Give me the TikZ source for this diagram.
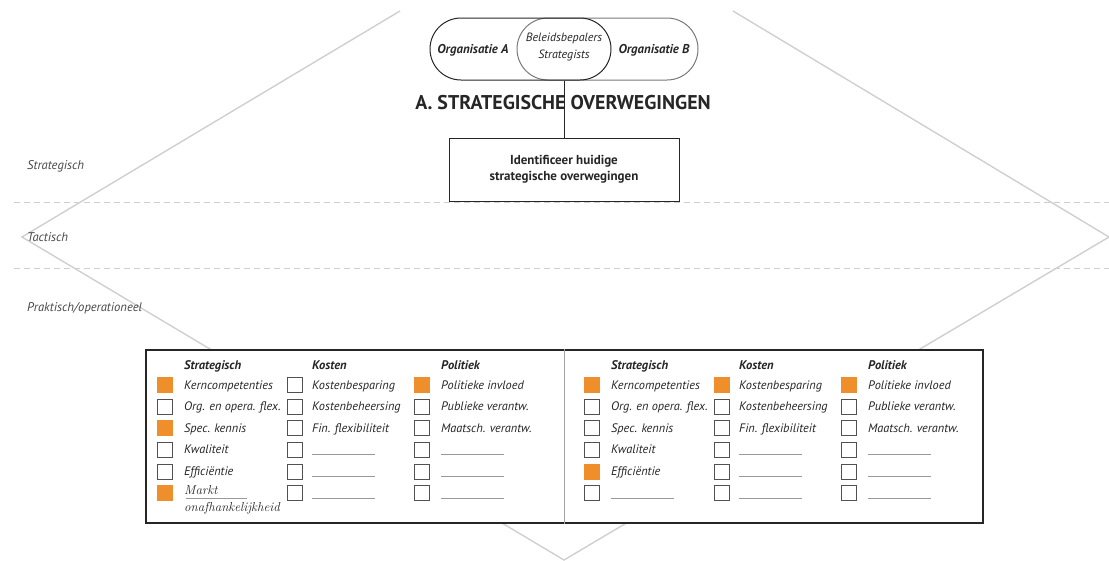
\documentclass[tikz,border=0pt]{standalone}
\usepackage{fontspec}
\setmainfont{PT Sans}
\newfontfamily\handfont{Latin Modern Roman}
\definecolor{mark}{HTML}{EF8F2C}
\definecolor{guide}{HTML}{CFCFCF}
\definecolor{ink}{HTML}{262626}
\definecolor{blankline}{HTML}{9A9A9A}
\definecolor{softline}{HTML}{7A7A7A}

\tikzset{
  guideline/.style={guide, line width=1.4pt},
  levelsep/.style={guide, line width=0.9pt, dash pattern=on 6pt off 4pt},
  levellabel/.style={anchor=base west, inner sep=0, text=ink!85,
    font=\fontsize{12.6}{14}\selectfont\itshape},
  stadium/.style={rounded corners=31pt, minimum width=181pt, minimum height=62pt,
    line width=1pt, inner sep=0},
  orgname/.style={font=\fontsize{12.8}{14}\selectfont\bfseries\itshape, text=ink},
  rolename/.style={font=\fontsize{12}{17}\selectfont\itshape, text=ink, align=center},
  phase/.style={font=\fontsize{19.9}{22}\selectfont\bfseries, text=ink},
  taskbox/.style={draw=ink, line width=1pt, minimum width=230pt, minimum height=63pt,
    align=center, font=\fontsize{13}{16.5}\selectfont\bfseries, text=ink, fill=white},
  chk/.style={draw=ink!80, line width=0.8pt, minimum size=15pt, inner sep=0, fill=white},
  chkon/.style={chk, fill=mark, draw=mark},
  head/.style={anchor=base west, inner sep=0, text=ink,
    font=\fontsize{12.5}{14}\selectfont\bfseries\itshape},
  entry/.style={anchor=base west, inner sep=0, text=ink,
    font=\fontsize{12.3}{14}\selectfont\itshape},
  hand/.style={anchor=base west, inner sep=0, text=ink,
    font=\fontsize{13}{14}\selectfont\handfont\itshape},
  blank/.style={blankline, line width=0.8pt},
}

\begin{document}
\begin{tikzpicture}[x=1pt, y=-1pt]
\useasboundingbox (0,0) rectangle (1109,560);

% level bands
\draw[levelsep] (14,202) -- (1109,202);
\draw[levelsep] (14,268) -- (1109,268);

% the large diamond behind everything
\draw[guideline] (400,11) -- (22,237) -- (564,560) -- (1109,237) -- (733,11);

\node[levellabel] (lvS) at (27,169) {Strategisch};
\node[levellabel] (lvT) at (27,241) {Tactisch};
\node[levellabel] (lvP) at (27,311) {Praktisch/operationeel};

% two organisations overlapping in the policy makers
\node[stadium, draw=softline] (orgB) at (607.5,49) {};
\node[stadium, draw=ink] (orgA) at (520.5,49) {};
\node[orgname] (orgAname) at (473,50) {Organisatie A};
\node[orgname] (orgBname) at (654,50) {Organisatie B};
\node[rolename] (roles) at (564,47) {Beleidsbepalers\\Strategists};

\node[phase] (title) at (563,103) {A. STRATEGISCHE OVERWEGINGEN};

\node[taskbox] (ident) at (564,169.5) {Identificeer huidige\\strategische overwegingen};
\draw[ink, line width=0.9pt] (ident.north |- orgA.south) -- (ident.north);

% checklist panel
\node[draw=ink, line width=2.6pt, fill=white, minimum width=837pt, minimum height=173pt,
  inner sep=0] (panel) at (564.5,436.5) {};
\draw[softline!70, line width=0.9pt] (panel.north) -- (panel.south);

% ---- left half ----
\node[head] (L1h) at (184,369) {Strategisch};
\node[head] (L2h) at (312,369) {Kosten};
\node[head] (L3h) at (441,369) {Politiek};

\foreach \st/\txt [count=\r] in {chkon/Kerncompetenties, chk/Org. en opera. flex.,
    chkon/Spec. kennis, chk/Kwaliteit, chk/Efficiëntie}{
  \node[\st] (L1-\r) at (165,385+21.6*\r-21.6) {};
  \node[entry] at (184,389+21.6*\r-21.6) {\txt};
}
\node[chkon] (L1-6) at (165,493) {};
\node[hand] (markt) at (184,494) {Markt};
\draw[blank] (186,498) -- (247,498);
\node[hand] (onafh) at (184,511) {onafhankelijkheid};

\foreach \st/\txt [count=\r] in {chk/Kostenbesparing, chk/Kostenbeheersing, chk/Fin. flexibiliteit}{
  \node[\st] (L2-\r) at (295,385+21.6*\r-21.6) {};
  \node[entry] at (312,389+21.6*\r-21.6) {\txt};
}
\foreach \r in {4,5,6}{
  \node[chk] (L2-\r) at (295,385+21.6*\r-21.6) {};
  \draw[blank] (312,390+21.6*\r-21.6) -- ++(63,0);
}

\foreach \st/\txt [count=\r] in {chkon/Politieke invloed, chk/Publieke verantw., chk/Maatsch. verantw.}{
  \node[\st] (L3-\r) at (422,385+21.6*\r-21.6) {};
  \node[entry] at (441,389+21.6*\r-21.6) {\txt};
}
\foreach \r in {4,5,6}{
  \node[chk] (L3-\r) at (422,385+21.6*\r-21.6) {};
  \draw[blank] (441,390+21.6*\r-21.6) -- ++(63,0);
}

% ---- right half ----
\begin{scope}[xshift=427]
\node[head] (R1h) at (184,369) {Strategisch};
\node[head] (R2h) at (312,369) {Kosten};
\node[head] (R3h) at (441,369) {Politiek};

\foreach \st/\txt [count=\r] in {chkon/Kerncompetenties, chk/Org. en opera. flex.,
    chk/Spec. kennis, chk/Kwaliteit, chkon/Efficiëntie}{
  \node[\st] (R1-\r) at (165,385+21.6*\r-21.6) {};
  \node[entry] at (184,389+21.6*\r-21.6) {\txt};
}
\node[chk] (R1-6) at (165,493) {};
\draw[blank] (184,498) -- ++(63,0);

\foreach \st/\txt [count=\r] in {chkon/Kostenbesparing, chk/Kostenbeheersing, chk/Fin. flexibiliteit}{
  \node[\st] (R2-\r) at (295,385+21.6*\r-21.6) {};
  \node[entry] at (312,389+21.6*\r-21.6) {\txt};
}
\foreach \r in {4,5,6}{
  \node[chk] (R2-\r) at (295,385+21.6*\r-21.6) {};
  \draw[blank] (312,390+21.6*\r-21.6) -- ++(63,0);
}

\foreach \st/\txt [count=\r] in {chkon/Politieke invloed, chk/Publieke verantw., chk/Maatsch. verantw.}{
  \node[\st] (R3-\r) at (422,385+21.6*\r-21.6) {};
  \node[entry] at (441,389+21.6*\r-21.6) {\txt};
}
\foreach \r in {4,5,6}{
  \node[chk] (R3-\r) at (422,385+21.6*\r-21.6) {};
  \draw[blank] (441,390+21.6*\r-21.6) -- ++(63,0);
}
\end{scope}
\end{tikzpicture}
\end{document}
